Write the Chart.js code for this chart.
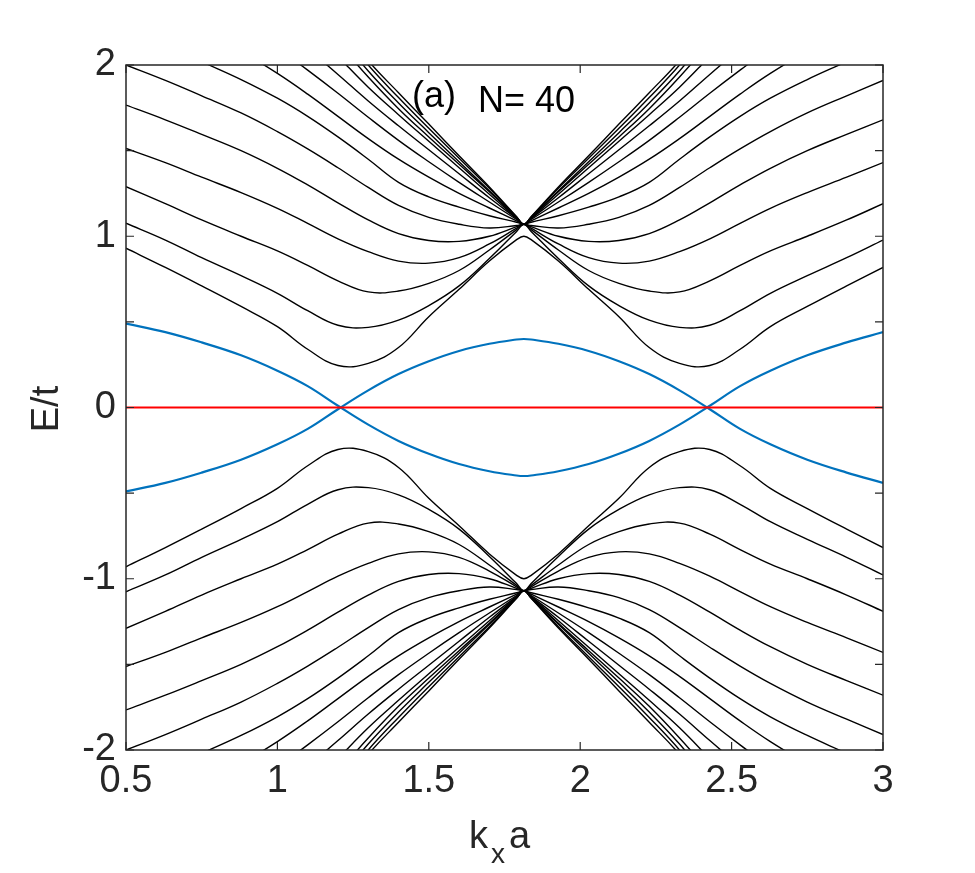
<!DOCTYPE html>
<html>
<head>
<meta charset="utf-8">
<script src="https://cdn.jsdelivr.net/npm/chart.js@4.4.0/dist/chart.umd.min.js"></script>
<style>
  html, body { margin: 0; padding: 0; background: #fff; }
  #wrap { width: 975px; height: 873px; }
</style>
</head>
<body>
<div id="wrap"><canvas id="bandChart"></canvas></div>
<script>
// k_x a sample points (bands touch at the zone boundary, 1.814)
const kx = [0.5, 0.63, 0.75, 0.88, 1.0, 1.1, 1.2, 1.3, 1.4, 1.5, 1.6, 1.7, 1.79, 1.814,
            1.838, 1.928, 2.028, 2.128, 2.228, 2.328, 2.428, 2.528, 2.628, 2.75, 2.88, 3.0];

// bulk bands above zero (E/t); values past |E|=2 are clipped
const bandUp1  = [0.93, 0.818, 0.71, 0.59, 0.472, 0.34, 0.245, 0.258, 0.35, 0.53, 0.69, 0.855, 0.98, 1.0,
                  0.98, 0.855, 0.69, 0.53, 0.35, 0.258, 0.245, 0.34, 0.472, 0.59, 0.71, 0.818];
const bandUp2  = [1.076, 0.978, 0.875, 0.77, 0.667, 0.565, 0.48, 0.468, 0.51, 0.595, 0.71, 0.87, 1.028, 1.07,
                  1.028, 0.87, 0.71, 0.595, 0.51, 0.468, 0.48, 0.565, 0.667, 0.77, 0.875, 0.978];
const bandUp3  = [1.289, 1.19, 1.095, 1.0, 0.915, 0.83, 0.74, 0.675, 0.68, 0.725, 0.80, 0.92, 1.039, 1.07,
                  1.039, 0.92, 0.80, 0.725, 0.68, 0.675, 0.74, 0.83, 0.915, 1.0, 1.095, 1.19];
const bandUp4  = [1.513, 1.43, 1.345, 1.255, 1.163, 1.075, 0.985, 0.91, 0.855, 0.843, 0.875, 0.955, 1.047, 1.07,
                  1.047, 0.955, 0.875, 0.843, 0.855, 0.91, 0.985, 1.075, 1.163, 1.255, 1.345, 1.43];
const bandUp5  = [1.766, 1.68, 1.595, 1.50, 1.397, 1.30, 1.195, 1.095, 1.015, 0.975, 0.97, 1.0, 1.056, 1.07,
                  1.056, 1.0, 0.97, 0.975, 1.015, 1.095, 1.195, 1.30, 1.397, 1.50, 1.595, 1.68];
const bandUp6  = [2.0, 1.91, 1.82, 1.72, 1.611, 1.51, 1.40, 1.285, 1.18, 1.11, 1.07, 1.048, 1.063, 1.07,
                  1.063, 1.048, 1.07, 1.11, 1.18, 1.285, 1.40, 1.51, 1.611, 1.72, 1.82, 1.91];
const bandUp7  = [2.22, 2.12, 2.02, 1.915, 1.806, 1.70, 1.58, 1.45, 1.315, 1.23, 1.17, 1.12, 1.082, 1.07,
                  1.082, 1.12, 1.17, 1.23, 1.315, 1.45, 1.58, 1.70, 1.806, 1.915, 2.02, 2.12];
const bandUp8  = [2.42, 2.31, 2.2, 2.08, 1.951, 1.83, 1.70, 1.57, 1.45, 1.345, 1.25, 1.165, 1.09, 1.07,
                  1.09, 1.165, 1.25, 1.345, 1.45, 1.57, 1.70, 1.83, 1.951, 2.08, 2.2, 2.31];
const bandUp9  = [2.63, 2.51, 2.39, 2.25, 2.10, 1.97, 1.835, 1.695, 1.56, 1.435, 1.315, 1.2, 1.098, 1.07,
                  1.098, 1.2, 1.315, 1.435, 1.56, 1.695, 1.835, 1.97, 2.10, 2.25, 2.39, 2.51];
const bandUp10 = [2.84, 2.7, 2.56, 2.4, 2.24, 2.095, 1.945, 1.79, 1.645, 1.505, 1.365, 1.225, 1.103, 1.07,
                  1.103, 1.225, 1.365, 1.505, 1.645, 1.79, 1.945, 2.095, 2.24, 2.4, 2.56, 2.7];
const bandUp11 = [3.2, 3.0, 2.8, 2.6, 2.4, 2.23, 2.05, 1.87, 1.71, 1.555, 1.4, 1.245, 1.106, 1.07,
                  1.106, 1.245, 1.4, 1.555, 1.71, 1.87, 2.05, 2.23, 2.4, 2.6, 2.8, 3.0];
const bandUp12 = [3.4, 3.18, 2.96, 2.74, 2.52, 2.33, 2.13, 1.93, 1.745, 1.58, 1.42, 1.26, 1.108, 1.07,
                  1.108, 1.26, 1.42, 1.58, 1.745, 1.93, 2.13, 2.33, 2.52, 2.74, 2.96, 3.18];
const bandUp13 = [3.52, 3.3, 3.08, 2.84, 2.6, 2.39, 2.18, 1.965, 1.778, 1.605, 1.435, 1.265, 1.111, 1.07,
                  1.111, 1.265, 1.435, 1.605, 1.778, 1.965, 2.18, 2.39, 2.6, 2.84, 3.08, 3.3];
const bandUp14 = [3.6, 3.38, 3.15, 2.9, 2.66, 2.44, 2.22, 2.0, 1.81, 1.63, 1.455, 1.28, 1.113, 1.07,
                  1.113, 1.28, 1.455, 1.63, 1.81, 2.0, 2.22, 2.44, 2.66, 2.9, 3.15, 3.38];
const bandUp15 = [3.65, 3.42, 3.19, 2.94, 2.7, 2.48, 2.25, 2.025, 1.838, 1.655, 1.47, 1.288, 1.114, 1.07,
                  1.114, 1.288, 1.47, 1.655, 1.838, 2.025, 2.25, 2.48, 2.7, 2.94, 3.19, 3.42];

// bulk bands below zero
const bandDn1  = [-0.93, -0.818, -0.71, -0.59, -0.472, -0.34, -0.245, -0.258, -0.35, -0.53, -0.69, -0.855, -0.98, -1.0,
                  -0.98, -0.855, -0.69, -0.53, -0.35, -0.258, -0.245, -0.34, -0.472, -0.59, -0.71, -0.818];
const bandDn2  = [-1.076, -0.978, -0.875, -0.77, -0.667, -0.565, -0.48, -0.468, -0.51, -0.595, -0.71, -0.87, -1.028, -1.07,
                  -1.028, -0.87, -0.71, -0.595, -0.51, -0.468, -0.48, -0.565, -0.667, -0.77, -0.875, -0.978];
const bandDn3  = [-1.289, -1.19, -1.095, -1.0, -0.915, -0.83, -0.74, -0.675, -0.68, -0.725, -0.80, -0.92, -1.039, -1.07,
                  -1.039, -0.92, -0.80, -0.725, -0.68, -0.675, -0.74, -0.83, -0.915, -1.0, -1.095, -1.19];
const bandDn4  = [-1.513, -1.43, -1.345, -1.255, -1.163, -1.075, -0.985, -0.91, -0.855, -0.843, -0.875, -0.955, -1.047, -1.07,
                  -1.047, -0.955, -0.875, -0.843, -0.855, -0.91, -0.985, -1.075, -1.163, -1.255, -1.345, -1.43];
const bandDn5  = [-1.766, -1.68, -1.595, -1.50, -1.397, -1.30, -1.195, -1.095, -1.015, -0.975, -0.97, -1.0, -1.056, -1.07,
                  -1.056, -1.0, -0.97, -0.975, -1.015, -1.095, -1.195, -1.30, -1.397, -1.50, -1.595, -1.68];
const bandDn6  = [-2.0, -1.91, -1.82, -1.72, -1.611, -1.51, -1.40, -1.285, -1.18, -1.11, -1.07, -1.048, -1.063, -1.07,
                  -1.063, -1.048, -1.07, -1.11, -1.18, -1.285, -1.40, -1.51, -1.611, -1.72, -1.82, -1.91];
const bandDn7  = [-2.22, -2.12, -2.02, -1.915, -1.806, -1.70, -1.58, -1.45, -1.315, -1.23, -1.17, -1.12, -1.082, -1.07,
                  -1.082, -1.12, -1.17, -1.23, -1.315, -1.45, -1.58, -1.70, -1.806, -1.915, -2.02, -2.12];
const bandDn8  = [-2.42, -2.31, -2.2, -2.08, -1.951, -1.83, -1.70, -1.57, -1.45, -1.345, -1.25, -1.165, -1.09, -1.07,
                  -1.09, -1.165, -1.25, -1.345, -1.45, -1.57, -1.70, -1.83, -1.951, -2.08, -2.2, -2.31];
const bandDn9  = [-2.63, -2.51, -2.39, -2.25, -2.10, -1.97, -1.835, -1.695, -1.56, -1.435, -1.315, -1.2, -1.098, -1.07,
                  -1.098, -1.2, -1.315, -1.435, -1.56, -1.695, -1.835, -1.97, -2.10, -2.25, -2.39, -2.51];
const bandDn10 = [-2.84, -2.7, -2.56, -2.4, -2.24, -2.095, -1.945, -1.79, -1.645, -1.505, -1.365, -1.225, -1.103, -1.07,
                  -1.103, -1.225, -1.365, -1.505, -1.645, -1.79, -1.945, -2.095, -2.24, -2.4, -2.56, -2.7];
const bandDn11 = [-3.2, -3.0, -2.8, -2.6, -2.4, -2.23, -2.05, -1.87, -1.71, -1.555, -1.4, -1.245, -1.106, -1.07,
                  -1.106, -1.245, -1.4, -1.555, -1.71, -1.87, -2.05, -2.23, -2.4, -2.6, -2.8, -3.0];
const bandDn12 = [-3.4, -3.18, -2.96, -2.74, -2.52, -2.33, -2.13, -1.93, -1.745, -1.58, -1.42, -1.26, -1.108, -1.07,
                  -1.108, -1.26, -1.42, -1.58, -1.745, -1.93, -2.13, -2.33, -2.52, -2.74, -2.96, -3.18];
const bandDn13 = [-3.52, -3.3, -3.08, -2.84, -2.6, -2.39, -2.18, -1.965, -1.778, -1.605, -1.435, -1.265, -1.111, -1.07,
                  -1.111, -1.265, -1.435, -1.605, -1.778, -1.965, -2.18, -2.39, -2.6, -2.84, -3.08, -3.3];
const bandDn14 = [-3.6, -3.38, -3.15, -2.9, -2.66, -2.44, -2.22, -2.0, -1.81, -1.63, -1.455, -1.28, -1.113, -1.07,
                  -1.113, -1.28, -1.455, -1.63, -1.81, -2.0, -2.22, -2.44, -2.66, -2.9, -3.15, -3.38];
const bandDn15 = [-3.65, -3.42, -3.19, -2.94, -2.7, -2.48, -2.25, -2.025, -1.838, -1.655, -1.47, -1.288, -1.114, -1.07,
                  -1.114, -1.288, -1.47, -1.655, -1.838, -2.025, -2.25, -2.48, -2.7, -2.94, -3.19, -3.42];

// edge states (blue) and the flat band (red)
const edgeA = [0.49, 0.44, 0.38, 0.305, 0.215, 0.125, 0.01, -0.10, -0.195, -0.27, -0.33, -0.372, -0.397, -0.40,
               -0.397, -0.372, -0.33, -0.27, -0.195, -0.10, 0.01, 0.125, 0.215, 0.305, 0.38, 0.44];
const edgeB = [-0.49, -0.44, -0.38, -0.305, -0.215, -0.125, -0.01, 0.10, 0.195, 0.27, 0.33, 0.372, 0.397, 0.40,
               0.397, 0.372, 0.33, 0.27, 0.195, 0.10, -0.01, -0.125, -0.215, -0.305, -0.38, -0.44];
const flatK = [0.5, 3.0];
const flatBand = [0, 0];

const xTicks = [0.5, 1, 1.5, 2, 2.5, 3];
const yTicks = [-2, -1.5, -1, -0.5, 0, 0.5, 1, 1.5, 2];

const blackBands = [bandUp1, bandUp2, bandUp3, bandUp4, bandUp5, bandUp6, bandUp7, bandUp8,
                    bandUp9, bandUp10, bandUp11, bandUp12, bandUp13, bandUp14, bandUp15,
                    bandDn1, bandDn2, bandDn3, bandDn4, bandDn5, bandDn6, bandDn7, bandDn8,
                    bandDn9, bandDn10, bandDn11, bandDn12, bandDn13, bandDn14, bandDn15];

function toPoints(xs, ys) {
    return ys.map((v, i) => ({ x: xs[i], y: v }));
}

const datasets = [];
blackBands.forEach(b => {
    datasets.push({ data: toPoints(kx, b), borderColor: '#000000', borderWidth: 1.4 });
});
datasets.push({ data: toPoints(flatK, flatBand), borderColor: '#ff0000', borderWidth: 2 });
datasets.push({ data: toPoints(kx, edgeA), borderColor: '#0072bd', borderWidth: 2.2 });
datasets.push({ data: toPoints(kx, edgeB), borderColor: '#0072bd', borderWidth: 2.2 });

const FONT = '"Liberation Sans", Arial, sans-serif';
const AXIS_COL = '#262626';

// box, inward ticks and the text labels
const framePlugin = {
    id: 'frame',
    afterDatasetsDraw(chart) {
        const { ctx, chartArea: a, scales: { x, y } } = chart;
        ctx.save();
        ctx.strokeStyle = AXIS_COL;
        ctx.lineWidth = 1.5;
        ctx.strokeRect(a.left, a.top, a.right - a.left, a.bottom - a.top);
        ctx.lineWidth = 1.2;
        ctx.beginPath();
        xTicks.forEach(v => {
            const px = x.getPixelForValue(v);
            ctx.moveTo(px, a.bottom); ctx.lineTo(px, a.bottom - 8);
            ctx.moveTo(px, a.top); ctx.lineTo(px, a.top + 8);
        });
        yTicks.forEach(v => {
            const py = y.getPixelForValue(v);
            ctx.moveTo(a.left, py); ctx.lineTo(a.left + 8, py);
            ctx.moveTo(a.right, py); ctx.lineTo(a.right - 8, py);
        });
        ctx.stroke();

        ctx.fillStyle = '#000';
        ctx.font = '36px ' + FONT;
        ctx.textBaseline = 'alphabetic';
        ctx.textAlign = 'left';
        ctx.fillText('(a)', 412, 107);
        ctx.fillText('N= 40', 478, 112);

        ctx.fillStyle = AXIS_COL;
        // x label: k_x a
        ctx.font = '38px ' + FONT;
        ctx.fillText('k', 469, 848);
        ctx.font = '28px ' + FONT;
        ctx.fillText('x', 491, 863);
        ctx.font = '38px ' + FONT;
        ctx.fillText('a', 509, 848);
        // y label
        ctx.translate(58, 409);
        ctx.rotate(-Math.PI / 2);
        ctx.textAlign = 'center';
        ctx.fillText('E/t', 0, 0);
        ctx.restore();
    }
};

new Chart(document.getElementById('bandChart'), {
    type: 'line',
    data: { datasets: datasets },
    options: {
        responsive: true,
        maintainAspectRatio: false,
        animation: false,
        events: [],
        layout: { padding: { left: 0, right: 92, top: 65, bottom: 0 } },
        elements: {
            point: { radius: 0 },
            line: { tension: 0.4, fill: false }
        },
        plugins: { legend: { display: false }, tooltip: { enabled: false } },
        scales: {
            x: {
                type: 'linear', min: 0.5, max: 3,
                grid: { display: false, drawTicks: false },
                border: { display: false },
                afterBuildTicks: s => { s.ticks = xTicks.map(v => ({ value: v })); },
                afterFit: s => { s.height = 123; },
                ticks: { color: AXIS_COL, font: { family: FONT, size: 38 }, padding: 9, maxRotation: 0,
                         callback: v => String(v) }
            },
            y: {
                type: 'linear', min: -2, max: 2,
                grid: { display: false, drawTicks: false },
                border: { display: false },
                afterBuildTicks: s => { s.ticks = yTicks.map(v => ({ value: v })); },
                afterFit: s => { s.width = 126; },
                ticks: { color: AXIS_COL, font: { family: FONT, size: 38 }, padding: 10,
                         callback: v => Number.isInteger(v) ? String(v) : '' }
            }
        }
    },
    plugins: [framePlugin]
});
</script>
</body>
</html>
